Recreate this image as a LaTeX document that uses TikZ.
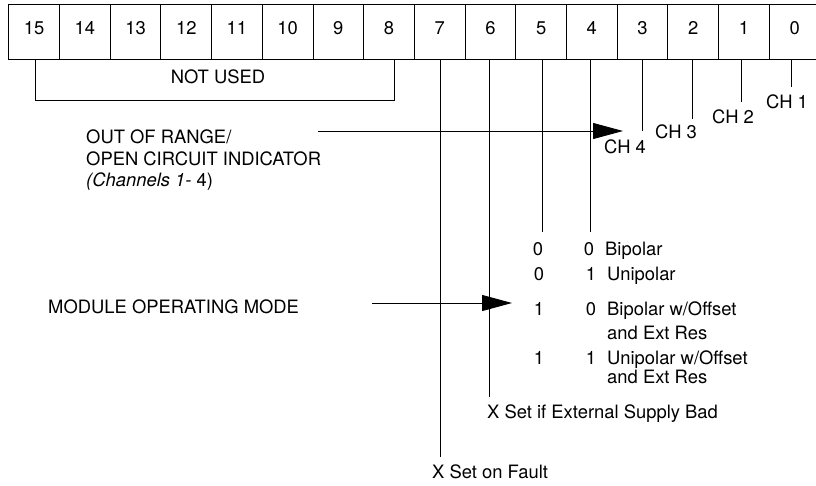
\documentclass[tikz,border=0pt]{standalone}
\usepackage{fontspec}
\setmainfont{TeX Gyre Heros}
\usetikzlibrary{positioning, calc, arrows.meta}

\begin{document}
\begin{tikzpicture}[x=1pt, y=-1pt,
  every node/.style={font=\fontsize{18.4}{21.5}\selectfont, inner sep=0pt},
  txt/.style={text height=13.2pt, text depth=0pt},
  lbl/.style={txt, anchor=west},
  bitbox/.style={draw, line width=0.9pt, minimum width=50.7pt,
    minimum height=55pt, text height=13.2pt, text depth=7pt},
  wire/.style={line width=0.9pt},
  pointer/.style={line width=0.9pt, -{Triangle[length=30pt, width=16pt]}},
]
\useasboundingbox (0,0) rectangle (816,485);

% Bit boxes
\foreach \i in {0,...,15}
  \node[bitbox] (b\i) at ({820-50.7*(\i+0.5)}, 31.5) {\i};

% Not used bracket
\coordinate (nuL) at (35,100);
\coordinate (nuR) at (394,100);
\draw[wire] (b15.south -| nuL) -- (nuL) -- (nuR) -- (b8.south -| nuR);
\node[txt] (notused) at (218,77) {NOT USED};

% Channel bits
\node[txt] (ch1) at (787,102) {CH 1};
\node[txt] (ch2) at (733,117) {CH 2};
\node[txt] (ch3) at (676,132) {CH 3};
\node[txt] (ch4) at (625,147) {CH 4};
\coordinate (e0) at (791,87);
\coordinate (e1) at (741,102);
\coordinate (e2) at (692,119);
\coordinate (e3) at (642,131);
\draw[wire] (b0.south -| e0) -- (e0);
\draw[wire] (b1.south -| e1) -- (e1);
\draw[wire] (b2.south -| e2) -- (e2);
\draw[wire] (b3.south -| e3) -- (e3);

% Out of range indicator
\node[anchor=north west, align=left] (oor) at (86,130)
  {OUT OF RANGE/\\OPEN CIRCUIT INDICATOR\\\textit{(Channels 1-} 4)};
\coordinate (oorS) at (318,131);
\coordinate (oorE) at (623,131);
\draw[pointer] (oorS) -- (oorE);

% Operating mode bits
\coordinate (e5) at (542,232);
\coordinate (e4) at (590,232);
\draw[wire] (b5.south -| e5) -- (e5);
\draw[wire] (b4.south -| e4) -- (e4);

\node[txt] (r1a) at (538,249) {0};  \node[txt] (r1b) at (589,249) {0};
\node[lbl] (r1) at (605,249) {Bipolar};
\node[txt] (r2a) at (539,274) {0};  \node[txt] (r2b) at (591,274) {1};
\node[lbl] (r2) at (607,274) {Unipolar};
\node[txt] (r3a) at (539,309) {1};  \node[txt] (r3b) at (591,309) {0};
\node[lbl] (r3) at (607,309) {Bipolar w/Offset};
\node[lbl] (r3x) at (607,333) {and Ext Res};
\node[txt] (r4a) at (539,358) {1};  \node[txt] (r4b) at (591,358) {1};
\node[lbl] (r4) at (607,358) {Unipolar w/Offset};
\node[lbl] (r4x) at (607,377) {and Ext Res};

\node[lbl] (mode) at (48,307) {MODULE OPERATING MODE};
\coordinate (modeS) at (372,303);
\coordinate (modeE) at (512,303);
\draw[pointer] (modeS) -- (modeE);

% Supply and fault bits
\coordinate (e6) at (489,397);
\coordinate (e7) at (440,457);
\draw[wire] (b6.south -| e6) -- (e6);
\draw[wire] (b7.south -| e7) -- (e7);
\node[lbl] (supply) at (487,412) {X Set if External Supply Bad};
\node[lbl] (fault) at (432,472) {X Set on Fault};

\end{tikzpicture}
\end{document}
